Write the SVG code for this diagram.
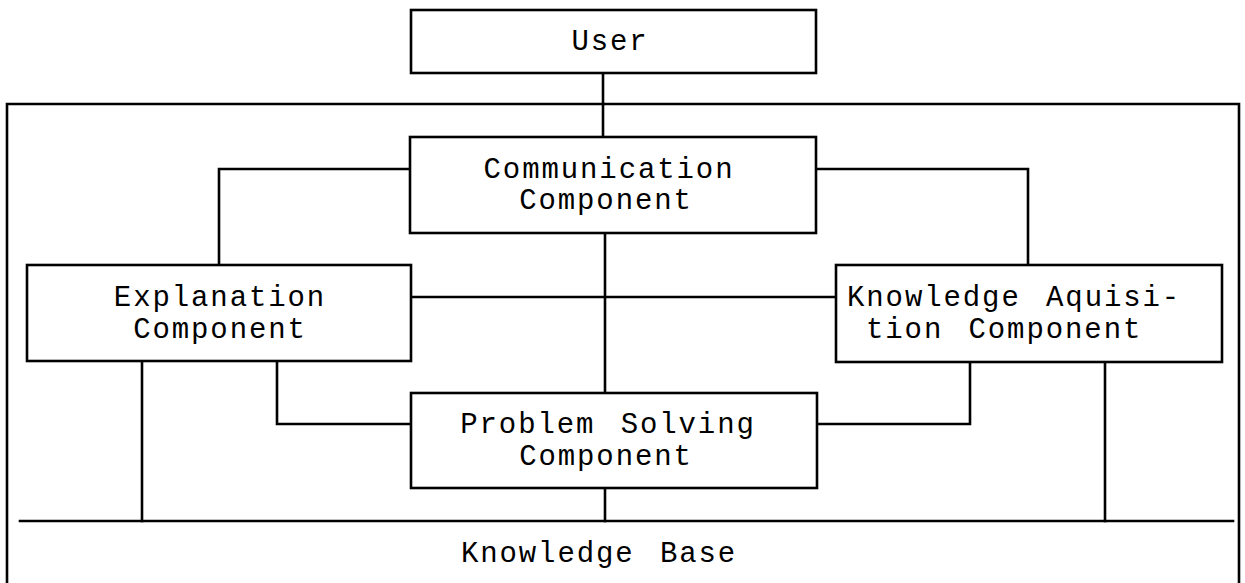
<svg xmlns="http://www.w3.org/2000/svg" width="1245" height="583" viewBox="0 0 1245 583">
  <style>
    .box { fill: #fff; stroke: #000; stroke-width: 2.6; }
    .wire { fill: none; stroke: #000; stroke-width: 2.6; stroke-linecap: square; }
    .lbl { font-family: "Liberation Mono", "Courier New", monospace; font-size: 29px; letter-spacing: 1.9px; word-spacing: 6px; fill: #000; }
    .mid { text-anchor: middle; }
  </style>
  <rect width="1245" height="583" fill="#fff"/>

  <!-- enclosing system frame (open at the bottom edge) -->
  <path class="wire" d="M7,600 V104 H1239 V600"/>

  <g id="connectors">
    <path class="wire" d="M603,73 V137"/>
    <path class="wire" d="M410,169 H219 V265"/>
    <path class="wire" d="M816,169 H1028 V265"/>
    <path class="wire" d="M605,233 V393"/>
    <path class="wire" d="M411,297 H836"/>
    <path class="wire" d="M277,361 V424 H411"/>
    <path class="wire" d="M970,362 V424 H817"/>
    <path class="wire" d="M142,361 V521"/>
    <path class="wire" d="M605,488 V521"/>
    <path class="wire" d="M1105,362 V521"/>
    <path class="wire" d="M20,521 H1233"/>
  </g>

  <g id="user">
    <rect class="box" x="411" y="10" width="405" height="63"/>
    <text class="lbl mid" x="610" y="50">User</text>
  </g>

  <g id="communication">
    <rect class="box" x="410" y="137" width="406" height="96"/>
    <text class="lbl mid" x="609" y="178">Communication</text>
    <text class="lbl mid" x="606" y="209">Component</text>
  </g>

  <g id="explanation">
    <rect class="box" x="27" y="265" width="384" height="96"/>
    <text class="lbl mid" x="220" y="306">Explanation</text>
    <text class="lbl mid" x="220" y="338">Component</text>
  </g>

  <g id="knowledge-acquisition">
    <rect class="box" x="836" y="265" width="386" height="97"/>
    <text class="lbl" x="847" y="306">Knowledge Aquisi-</text>
    <text class="lbl" x="866" y="338">tion Component</text>
  </g>

  <g id="problem-solving">
    <rect class="box" x="411" y="393" width="406" height="95"/>
    <text class="lbl mid" x="608" y="433">Problem Solving</text>
    <text class="lbl mid" x="606" y="465">Component</text>
  </g>

  <g id="knowledge-base">
    <text class="lbl mid" x="599" y="562">Knowledge Base</text>
  </g>
</svg>
